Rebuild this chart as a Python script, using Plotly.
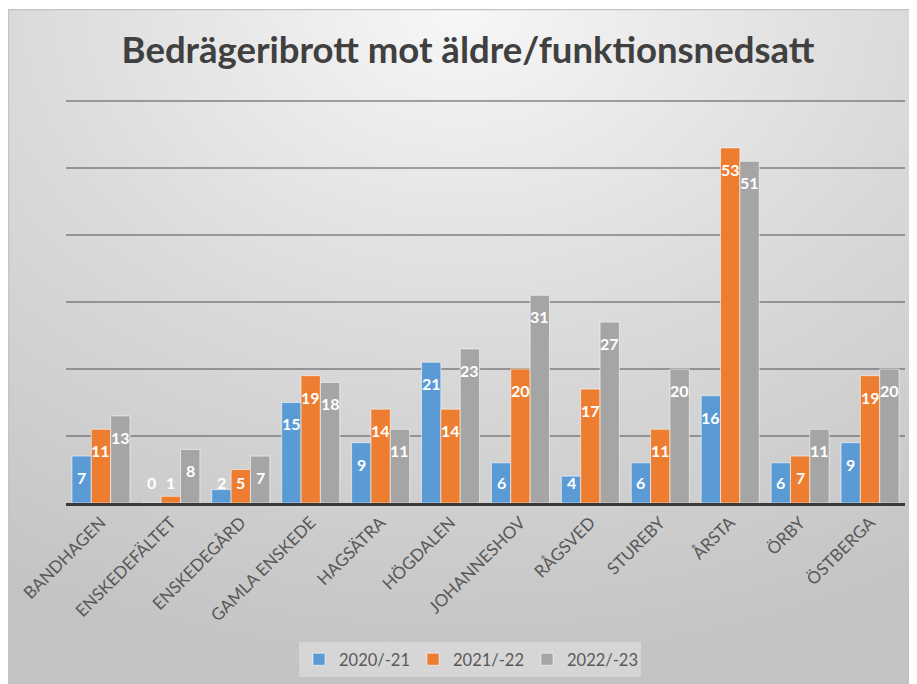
import base64
import plotly.graph_objects as go

categories = ["BANDHAGEN", "ENSKEDEFÄLTET", "ENSKEDEGÅRD", "GAMLA ENSKEDE", "HAGSÄTRA",
              "HÖGDALEN", "JOHANNESHOV", "RÅGSVED", "STUREBY", "ÅRSTA", "ÖRBY", "ÖSTBERGA"]
series_names = ["2020/-21", "2021/-22", "2022/-23"]
values_2020 = [7, 0, 2, 15, 9, 21, 6, 4, 6, 16, 6, 9]
values_2021 = [11, 1, 5, 19, 14, 14, 20, 17, 11, 53, 7, 19]
values_2022 = [13, 8, 7, 18, 11, 23, 31, 27, 20, 51, 11, 20]
title_text = "Bedrägeribrott mot äldre/funktionsnedsatt"

colors = ["#5b9bd5", "#ed7d31", "#a5a5a5"]
all_values = [values_2020, values_2021, values_2022]

# the page body has an 8px margin; the figure is sized so it ends at the window edge
W, H = 909, 676
ml, mr, mt, mb = 58, 12, 91, 181
plot_w = W - ml - mr
plot_h = H - mt - mb
bargap = 0.17
bar_w = plot_w / len(categories) * (1 - bargap) / 3

fig = go.Figure()
for name, vals, col in zip(series_names, all_values, colors):
    fig.add_trace(go.Bar(
        name=name, x=categories, y=vals,
        marker=dict(color=col, line=dict(color="rgba(255,255,255,0.55)", width=1)),
        hoverinfo="x+y+name",
    ))

annotations = []
for j, vals in enumerate(all_values):
    for cat, v in zip(categories, vals):
        annotations.append(dict(
            x=cat, y=max(v - 3.2, 3.1), xref="x", yref="y",
            text=str(v), showarrow=False, xshift=(j - 1) * bar_w,
            yanchor="middle", xanchor="center",
            font=dict(family="Lato", size=16, color="white", weight="bold"),
        ))

# gradient background (chart area) as inline SVG
svg = (
    '<svg xmlns="http://www.w3.org/2000/svg" width="911" height="675" viewBox="0 0 911 675" preserveAspectRatio="none">'
    '<defs><radialGradient id="g" cx="0.5" cy="0" r="1" fx="0.5" fy="0">'
    '<stop offset="0" stop-color="#f7f7f7"/><stop offset="0.5" stop-color="#dadada"/>'
    '<stop offset="1" stop-color="#c3c3c3"/></radialGradient></defs>'
    '<rect x="0" y="0" width="911" height="675" fill="url(#g)"/>'
    '<path d="M0.5,675 L0.5,0.5 L911,0.5" fill="none" stroke="#c4c4c4" stroke-width="1.5"/>'
    '</svg>'
)
src = "data:image/svg+xml;base64," + base64.b64encode(svg.encode()).decode()
x0 = (0 - ml) / plot_w
x1 = (W - ml) / plot_w
ytop = (H - mb - 1) / plot_h
ybot = (H - mb - H) / plot_h

fig.update_layout(
    width=W, height=H,
    margin=dict(l=ml, r=mr, t=mt, b=mb),
    paper_bgcolor="white", plot_bgcolor="rgba(0,0,0,0)",
    barmode="group", bargap=bargap, bargroupgap=0,
    title=dict(text=title_text, x=460 / W, xanchor="center", xref="container",
               y=1 - 42 / H, yanchor="middle", yref="container",
               font=dict(family="Lato", size=36.5, color="#404040", weight="bold")),
    images=[dict(source=src, xref="paper", yref="paper", x=x0, y=ytop,
                 sizex=x1 - x0, sizey=ytop - ybot, sizing="stretch",
                 xanchor="left", yanchor="top", layer="below")],
    legend=dict(orientation="h", xref="container", yref="container",
                x=462 / W, xanchor="center", y=7 / H, yanchor="bottom",
                bgcolor="rgba(255,255,255,0.3)", entrywidth=69,
                font=dict(family="Lato", size=16.5, color="#595959"),
                itemclick=False, itemdoubleclick=False),
    annotations=annotations,
    showlegend=True,
)
fig.update_xaxes(type="category", tickangle=-45, showgrid=False,
                 showline=True, linecolor="#3a3a3a", linewidth=3,
                 tickfont=dict(family="Lato", size=17, color="#595959"),
                 ticks="", ticklabelstandoff=0)
fig.update_yaxes(range=[0, 60.3], tickvals=[10, 20, 30, 40, 50, 60], showticklabels=False,
                 zeroline=False, showgrid=True, gridcolor="rgba(80,80,80,0.5)", gridwidth=1.5)

fig.write_html("out.html")
